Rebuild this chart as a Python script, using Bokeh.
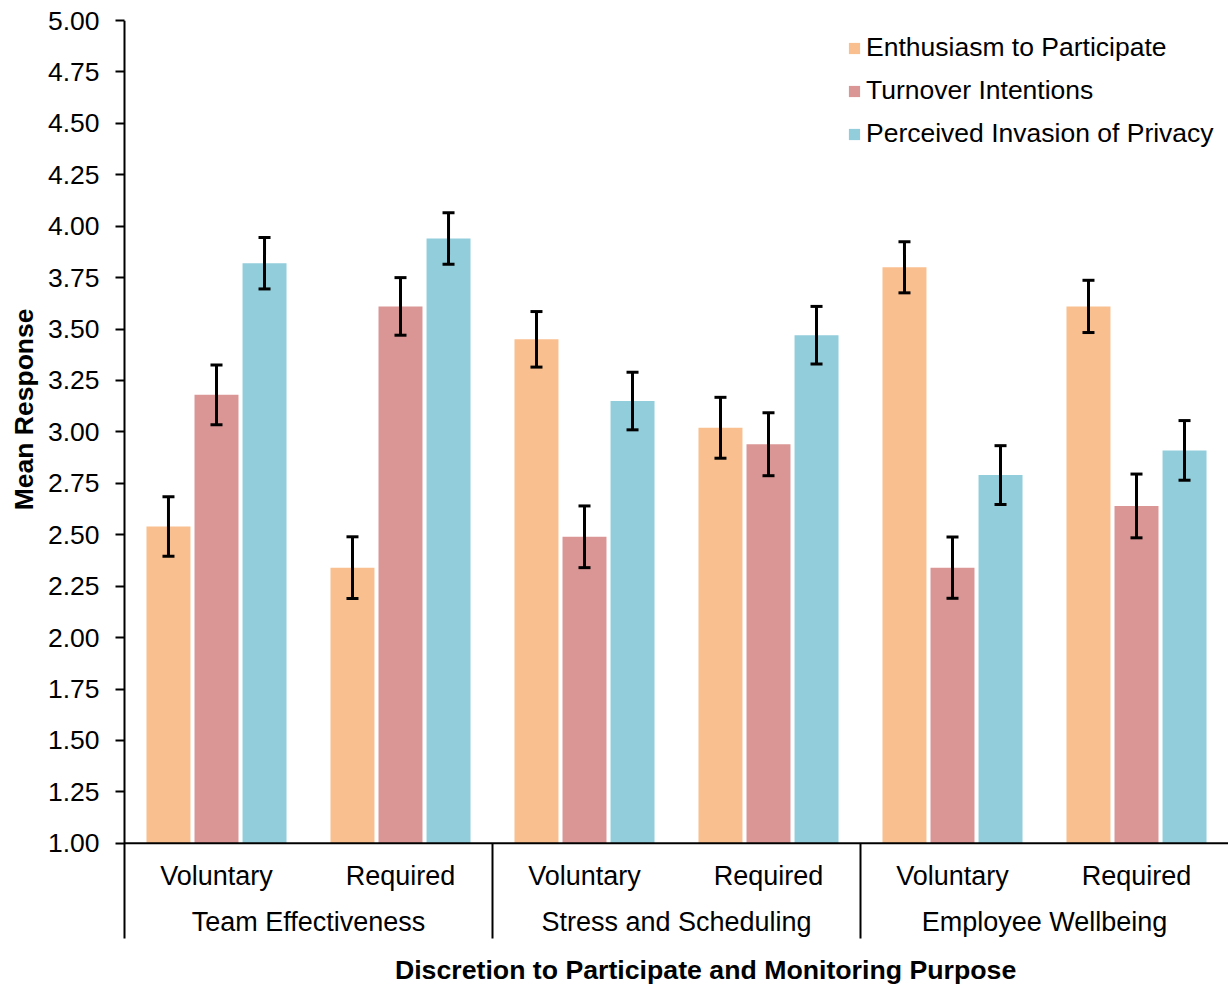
from bokeh.plotting import figure
from bokeh.models import (ColumnDataSource, Whisker, TeeHead, FixedTicker, Range1d, Legend,
                          LegendItem, NumeralTickFormatter, Title)
from bokeh.transform import dodge
from bokeh.core.properties import value
from bokeh.embed import file_html
from bokeh.resources import INLINE

# ---- data ----
purposes = ["Team Effectiveness", "Stress and Scheduling", "Employee Wellbeing"]
discretion = ["Voluntary", "Required"]
series = ["Enthusiasm to Participate", "Turnover Intentions", "Perceived Invasion of Privacy"]
enthusiasm = [2.54, 2.34, 3.45, 3.02, 3.80, 3.61]
turnover = [3.18, 3.61, 2.49, 2.94, 2.34, 2.64]
privacy = [3.82, 3.94, 3.15, 3.47, 2.79, 2.91]
enthusiasm_err = [0.145, 0.15, 0.135, 0.148, 0.124, 0.127]
turnover_err = [0.145, 0.14, 0.15, 0.153, 0.149, 0.155]
privacy_err = [0.125, 0.125, 0.14, 0.14, 0.143, 0.145]
y_ticks = [1.00, 1.25, 1.50, 1.75, 2.00, 2.25, 2.50, 2.75, 3.00, 3.25, 3.50, 3.75,
           4.00, 4.25, 4.50, 4.75, 5.00]
colors = ["#FABF8F", "#DA9694", "#92CDDC"]

FONT = value("Liberation Sans")
FS = "27px"
FS_SMALL = "26.5px"

n_sub = len(purposes) * len(discretion)
centers = [i + 0.5 for i in range(n_sub)]
sub_labels = [d for _ in purposes for d in discretion]
group_centers = [len(discretion) * (g + 0.5) for g in range(len(purposes))]
separators = [len(discretion) * g for g in range(1, len(purposes))]

p = figure(width=1228, height=988, output_backend="svg", toolbar_location=None,
           x_range=Range1d(-3 / 184, 6.0), y_range=Range1d(0.294, 5.0),
           x_axis_location=None, min_border_left=121, min_border_right=0,
           min_border_top=20, min_border_bottom=0)
p.outline_line_color = None
p.xgrid.visible = False
p.ygrid.visible = False

yax = p.yaxis[0]
yax.ticker = FixedTicker(ticks=y_ticks)
yax.formatter = NumeralTickFormatter(format="0.00")
yax.axis_line_color = None
yax.major_tick_in = 3
yax.major_tick_out = 6
yax.major_tick_line_width = 2
yax.major_tick_line_color = "black"
yax.minor_tick_line_color = None
yax.major_label_standoff = 16
yax.major_label_text_font = "Liberation Sans"
yax.major_label_text_font_size = FS_SMALL
yax.major_label_text_color = "black"

# y-axis title placed on the left side
p.add_layout(Title(text="Mean Response", align="right", offset=288, standoff=11,
                   text_font="Liberation Sans", text_font_size=FS_SMALL,
                   text_font_style="bold", text_color="black"), "left")

src = ColumnDataSource(dict(
    x=centers,
    e=enthusiasm, t=turnover, v=privacy,
    e_lo=[a - b for a, b in zip(enthusiasm, enthusiasm_err)],
    e_hi=[a + b for a, b in zip(enthusiasm, enthusiasm_err)],
    t_lo=[a - b for a, b in zip(turnover, turnover_err)],
    t_hi=[a + b for a, b in zip(turnover, turnover_err)],
    v_lo=[a - b for a, b in zip(privacy, privacy_err)],
    v_hi=[a + b for a, b in zip(privacy, privacy_err)],
))

offsets = [-0.261, 0.0, 0.261]
keys = ["e", "t", "v"]
renderers = []
for key, off, col in zip(keys, offsets, colors):
    r = p.vbar(x=dodge("x", off, range=p.x_range), top=key, bottom=1.0, width=0.239,
               source=src, fill_color=col, line_color=None)
    renderers.append(r)
for key, off in zip(keys, offsets):
    w = Whisker(base=dodge("x", off, range=p.x_range), upper=key + "_hi", lower=key + "_lo",
                source=src, line_color="black", line_width=3, level="overlay",
                upper_head=TeeHead(size=12, line_width=3, line_color="black"),
                lower_head=TeeHead(size=12, line_width=3, line_color="black"))
    p.add_layout(w)

# axis lines and separators
p.segment(x0=[0], y0=[1.0], x1=[n_sub], y1=[1.0], line_color="black", line_width=2)
p.segment(x0=[0], y0=[0.537], x1=[0], y1=[5.0], line_color="black", line_width=2)
p.segment(x0=separators, y0=[0.537] * len(separators), x1=separators, y1=[1.0] * len(separators),
          line_color="black", line_width=2)

# category labels
p.text(x=centers, y=[0.843] * n_sub, text=sub_labels, text_font=FONT, text_font_size=FS,
       text_align="center", text_baseline="middle", text_color="black")
p.text(x=group_centers, y=[0.615] * len(purposes), text=purposes, text_font=FONT, text_font_size=FS,
       text_align="center", text_baseline="middle", text_color="black")
p.text(x=[3.158], y=[0.382], text=["Discretion to Participate and Monitoring Purpose"],
       text_font=FONT, text_font_size="26.7px", text_font_style="bold",
       text_align="center", text_baseline="middle", text_color="black")

legend = Legend(items=[LegendItem(label=s, renderers=[r]) for s, r in zip(series, renderers)],
                location=(726, 839), glyph_width=14, glyph_height=14,
                label_text_font="Liberation Sans", label_text_font_size=FS_SMALL,
                label_text_color="black", label_standoff=5, spacing=12,
                padding=0, margin=0, border_line_color=None, background_fill_alpha=0)
p.add_layout(legend)

open("out.html", "w").write(file_html(p, INLINE))
